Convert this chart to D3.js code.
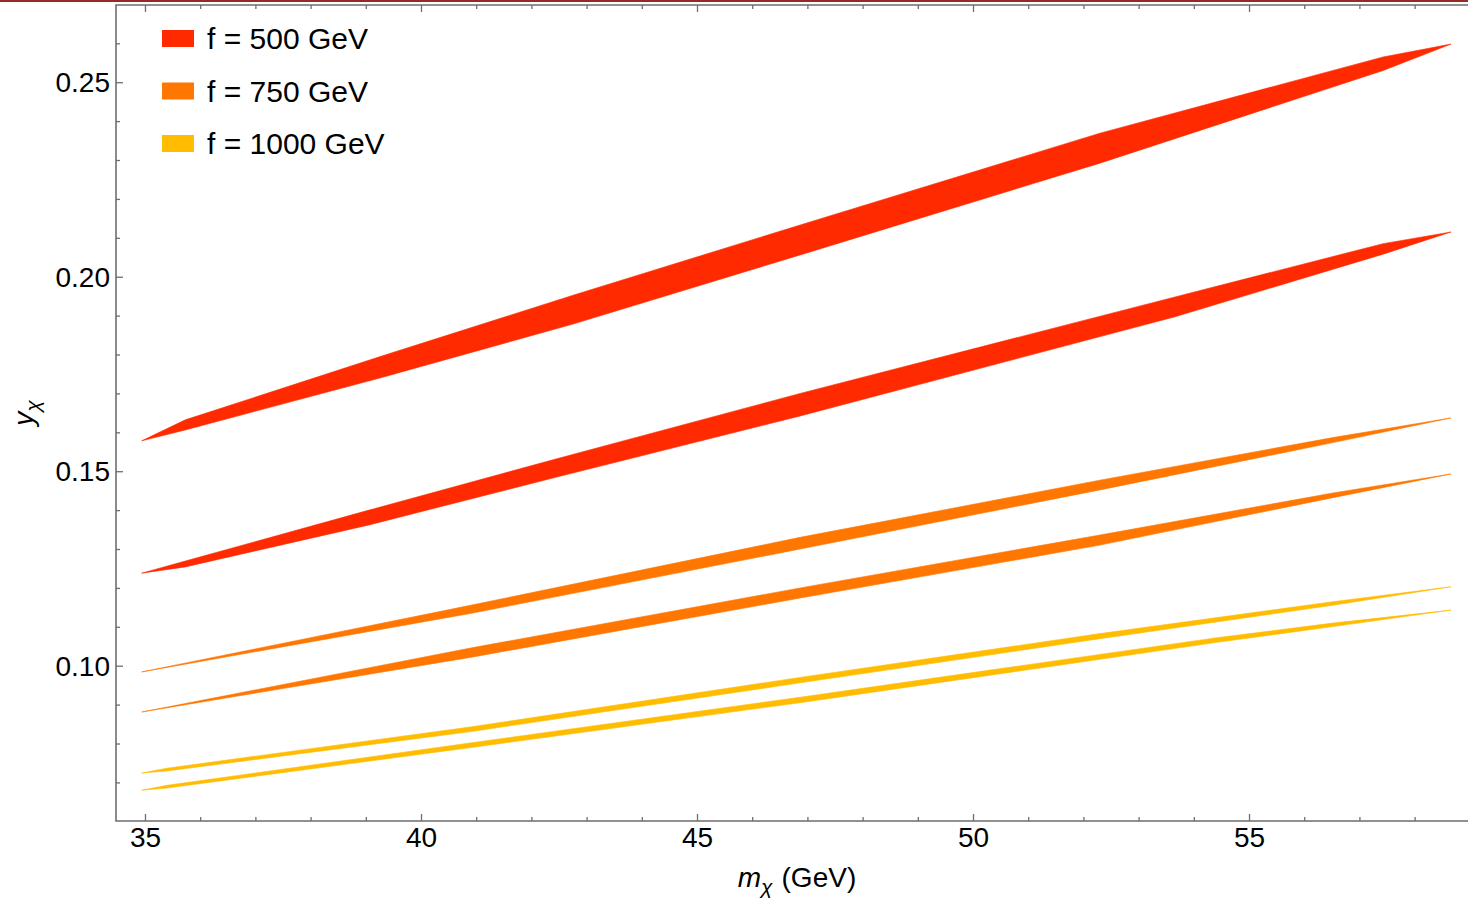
<!DOCTYPE html>
<html>
<head>
<meta charset="utf-8">
<script src="https://cdn.jsdelivr.net/npm/d3@7"></script>
<style>
  html, body { margin: 0; padding: 0; background: #ffffff; }
  svg { display: block; }
  text { font-family: "Liberation Sans", Arial, Helvetica, sans-serif; fill: #000; }
</style>
</head>
<body>
<svg id="chart" width="1468" height="898"></svg>
<script>
// Allowed (m_chi, y_chi) regions for three values of f.
// Each f gives two thin bands; every band is bounded by a lower and an upper curve.
const legendLabels = ["f = 500 GeV", "f = 750 GeV", "f = 1000 GeV"];
const bandColors = ["#ff2a00", "#ff7600", "#ffbc00"];

const xMajorTicks = [35, 40, 45, 50, 55];
const yMajorTicks = [0.10, 0.15, 0.20, 0.25];

// f = 500 GeV, upper band
const m500a = [34.94, 35.73, 39.29, 42.77, 46.87, 52.30, 57.43, 58.66];
const lo500a = [0.1578, 0.1606, 0.1741, 0.1879, 0.2056, 0.2292, 0.2530, 0.2598];
const hi500a = [0.1578, 0.1632, 0.1796, 0.1953, 0.2133, 0.2369, 0.2565, 0.2598];

// f = 500 GeV, lower band
const m500b = [34.94, 35.73, 39.06, 42.46, 46.87, 53.66, 57.43, 58.66];
const lo500b = [0.1238, 0.1254, 0.1362, 0.1485, 0.1642, 0.1897, 0.2058, 0.2115];
const hi500b = [0.1238, 0.1269, 0.1400, 0.1532, 0.1700, 0.1948, 0.2085, 0.2115];

// f = 750 GeV, upper band
const m750a = [34.94, 40.92, 46.87, 52.30, 56.52, 58.66];
const lo750a = [0.0984, 0.1135, 0.1300, 0.1452, 0.15735, 0.1637];
const hi750a = [0.0984, 0.1156, 0.1330, 0.1477, 0.15865, 0.1637];

// f = 750 GeV, lower band
const m750b = [34.94, 40.92, 46.87, 52.30, 56.52, 58.66];
const lo750b = [0.0881, 0.1022, 0.1174, 0.1310, 0.1432, 0.1493];
const hi750b = [0.0881, 0.1046, 0.1200, 0.1336, 0.1444, 0.1493];

// f = 1000 GeV, upper band
const m1000a = [34.94, 35.40, 40.92, 46.87, 52.30, 56.52, 58.66];
const lo1000a = [0.0724, 0.07295, 0.0831, 0.0956, 0.10695, 0.11555, 0.1203];
const hi1000a = [0.0724, 0.07365, 0.0843, 0.0970, 0.10825, 0.11645, 0.1203];

// f = 1000 GeV, lower band
const m1000b = [34.94, 35.40, 40.92, 46.87, 54.42, 56.52, 58.66];
const lo1000b = [0.0680, 0.06855, 0.0790, 0.0905, 0.1060, 0.11005, 0.1143];
const hi1000b = [0.0680, 0.06925, 0.0802, 0.0919, 0.1072, 0.11095, 0.1143];

function band(ms, lo, hi, group) {
  return { group, points: ms.map((m, i) => ({ m, lo: lo[i], hi: hi[i] })) };
}
const bands = [
  band(m500a, lo500a, hi500a, 0),
  band(m500b, lo500b, hi500b, 0),
  band(m750a, lo750a, hi750a, 1),
  band(m750b, lo750b, hi750b, 1),
  band(m1000a, lo1000a, hi1000a, 2),
  band(m1000b, lo1000b, hi1000b, 2)
];

const svg = d3.select("#chart");
const W = 1468, H = 898;

// Frame edges in pixels
const frameL = 116, frameR = 1477, frameT = 5, frameB = 821;

const x = d3.scaleLinear().domain([34.475, 59.13]).range([frameL, frameR]);
const y = d3.scaleLinear().domain([0.06008, 0.26985]).range([frameB, frameT]);

// thin dark-red rule along the very top
svg.append("rect").attr("x", 0).attr("y", 0).attr("width", W).attr("height", 2).attr("fill", "#952a28");

// bands
const area = d3.area()
  .x(d => x(d.m))
  .y0(d => y(d.lo))
  .y1(d => y(d.hi));

svg.append("g").selectAll("path")
  .data(bands)
  .join("path")
  .attr("d", d => area(d.points))
  .attr("fill", d => bandColors[d.group])
  .attr("stroke", d => bandColors[d.group])
  .attr("stroke-width", 0.6)
  .attr("stroke-linejoin", "round");

// frame
const axisColor = "#6e6e6e";
svg.append("path")
  .attr("d", `M${frameR},${frameT}H${frameL}V${frameB}H${frameR}`)
  .attr("fill", "none")
  .attr("stroke", axisColor)
  .attr("stroke-width", 1.6);

// ticks
const xMinor = d3.range(35, 60, 1).filter(v => !xMajorTicks.includes(v));
const yMinor = d3.range(7, 27, 1).map(v => v / 100).filter(v => !yMajorTicks.some(t => Math.abs(t - v) < 1e-9));

const xAxisB = d3.axisBottom(x).tickValues(xMajorTicks).tickSize(-7).tickPadding(6).tickFormat(d3.format("d"));
const gxb = svg.append("g").attr("transform", `translate(0,${frameB})`).call(xAxisB);
const gxbm = svg.append("g").attr("transform", `translate(0,${frameB})`)
  .call(d3.axisBottom(x).tickValues(xMinor).tickSize(-4).tickFormat(""));

const gxt = svg.append("g").attr("transform", `translate(0,${frameT})`)
  .call(d3.axisTop(x).tickValues(xMajorTicks).tickSize(-7).tickFormat(""));
const gxtm = svg.append("g").attr("transform", `translate(0,${frameT})`)
  .call(d3.axisTop(x).tickValues(xMinor).tickSize(-4).tickFormat(""));

const yAxisL = d3.axisLeft(y).tickValues(yMajorTicks).tickSize(-7).tickPadding(6).tickFormat(d3.format(".2f"));
const gyl = svg.append("g").attr("transform", `translate(${frameL},0)`).call(yAxisL);
const gylm = svg.append("g").attr("transform", `translate(${frameL},0)`)
  .call(d3.axisLeft(y).tickValues(yMinor).tickSize(-4).tickFormat(""));

[gxb, gxbm, gxt, gxtm, gyl, gylm].forEach(g => {
  g.select(".domain").remove();
  g.selectAll(".tick line").attr("stroke", axisColor).attr("stroke-width", 1.3);
  g.selectAll(".tick text").attr("font-size", 28).attr("fill", "#000")
    .attr("font-family", "'Liberation Sans', Arial, sans-serif");
});
gyl.selectAll(".tick text").attr("dy", "0.34em");

// axis titles
const xt = svg.append("text")
  .attr("x", 797).attr("y", 887)
  .attr("text-anchor", "middle")
  .attr("font-size", 28);
xt.append("tspan").attr("font-style", "italic").text("m");
xt.append("tspan").attr("font-style", "italic").attr("font-size", 21).attr("dy", 7).text("χ");
xt.append("tspan").attr("dy", -7).attr("dx", 9).text("(GeV)");

const yt = svg.append("text")
  .attr("transform", "translate(33,413) rotate(-90)")
  .attr("text-anchor", "middle")
  .attr("font-size", 28);
yt.append("tspan").attr("font-style", "italic").text("y");
yt.append("tspan").attr("font-style", "italic").attr("font-size", 21).attr("dy", 7).text("χ");

// legend
const legend = svg.append("g");
legendLabels.forEach((label, i) => {
  const row = legend.append("g").attr("transform", `translate(162,${30 + i * 52.5})`);
  row.append("rect").attr("x", 0).attr("y", 0).attr("width", 32).attr("height", 17)
    .attr("fill", bandColors[i]);
  row.append("text").attr("x", 45).attr("y", 19).attr("font-size", 30).text(label);
});
</script>
</body>
</html>
